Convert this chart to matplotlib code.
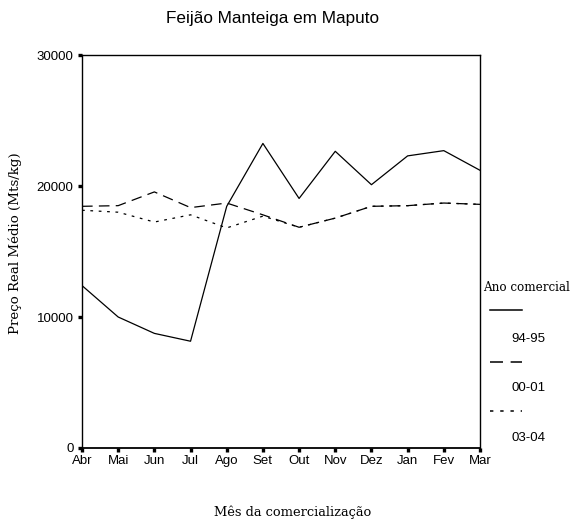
import matplotlib
matplotlib.use('Agg')
import matplotlib.pyplot as plt
from matplotlib.lines import Line2D

# ── Data ──────────────────────────────────────────────────────────────────────
meses = ['Abr', 'Mai', 'Jun', 'Jul', 'Ago', 'Set', 'Out', 'Nov', 'Dez', 'Jan', 'Fev', 'Mar']
preco_94_95 = [12400, 10000, 8750, 8150, 18450, 23250, 19050, 22650, 20100, 22300, 22700, 21200]
preco_00_01 = [18450, 18500, 19550, 18350, 18700, 17800, 16850, 17550, 18450, 18500, 18700, 18600]
preco_03_04 = [18150, 18000, 17250, 17800, 16800, 17700, 16850, 17550, 18450, 18500, 18700, 18600]
anos = ['94-95', '00-01', '03-04']
y_ticks = [0, 10000, 20000, 30000]

SANS = 'Liberation Sans'
SERIF = 'DejaVu Serif'

fig = plt.figure(figsize=(5.71, 5.26), dpi=100, facecolor='white')
ax = fig.add_axes([0.1436, 0.1483, 0.6970, 0.7471])

x = list(range(len(meses)))
estilos = [
    dict(linestyle='-'),
    dict(linestyle=(0, (8.5, 5))),
    dict(linestyle=(0, (2.2, 4.5))),
]
for serie, est in zip([preco_94_95, preco_00_01, preco_03_04], estilos):
    ax.plot(x, serie, color='black', lw=0.9, **est)

ax.set_xlim(0, len(meses) - 1)
ax.set_ylim(0, 30000)
ax.set_xticks(x)
ax.set_xticklabels(meses, fontfamily=SANS, fontsize=9.5)
ax.set_yticks(y_ticks)
ax.set_yticklabels([str(v) for v in y_ticks], fontfamily=SANS, fontsize=9.5)
ax.tick_params(direction='out', length=3, width=2.4, color='black', pad=3)
ax.tick_params(axis='x', pad=2)
ax.tick_params(top=False, right=False)
for sp in ax.spines.values():
    sp.set_color('black')
    sp.set_linewidth(1.0)
ax.spines['bottom'].set_linewidth(1.3)

# títulos
fig.text(0.478, 0.965, 'Feijão Manteiga em Maputo', ha='center', va='center',
         fontfamily=SANS, fontsize=12.3)
fig.text(0.513, 0.026, 'Mês da comercialização', ha='center', va='center',
         fontfamily=SERIF, fontsize=9.4)
fig.text(0.027, 0.538, 'Preço Real Médio (Mts/kg)', ha='center', va='center',
         rotation=90, fontfamily=SERIF, fontsize=9.6)

# ── Legenda (estilo SPSS) ─────────────────────────────────────────────────────
fig.text(0.846, 0.454, 'Ano comercial', ha='left', va='center',
         fontfamily=SERIF, fontsize=8.6)
leg_y_linha = [0.411, 0.312, 0.219]
leg_y_txt = [0.356, 0.262, 0.167]
for ano, est, yl, yt in zip(anos, estilos, leg_y_linha, leg_y_txt):
    fig.add_artist(Line2D([0.858, 0.914], [yl, yl], transform=fig.transFigure,
                          color='black', lw=1.1, **est))
    fig.text(0.896, yt, ano, ha='left', va='center', fontfamily=SANS, fontsize=9.5)

fig.savefig('out.png', dpi=100, facecolor='white')
